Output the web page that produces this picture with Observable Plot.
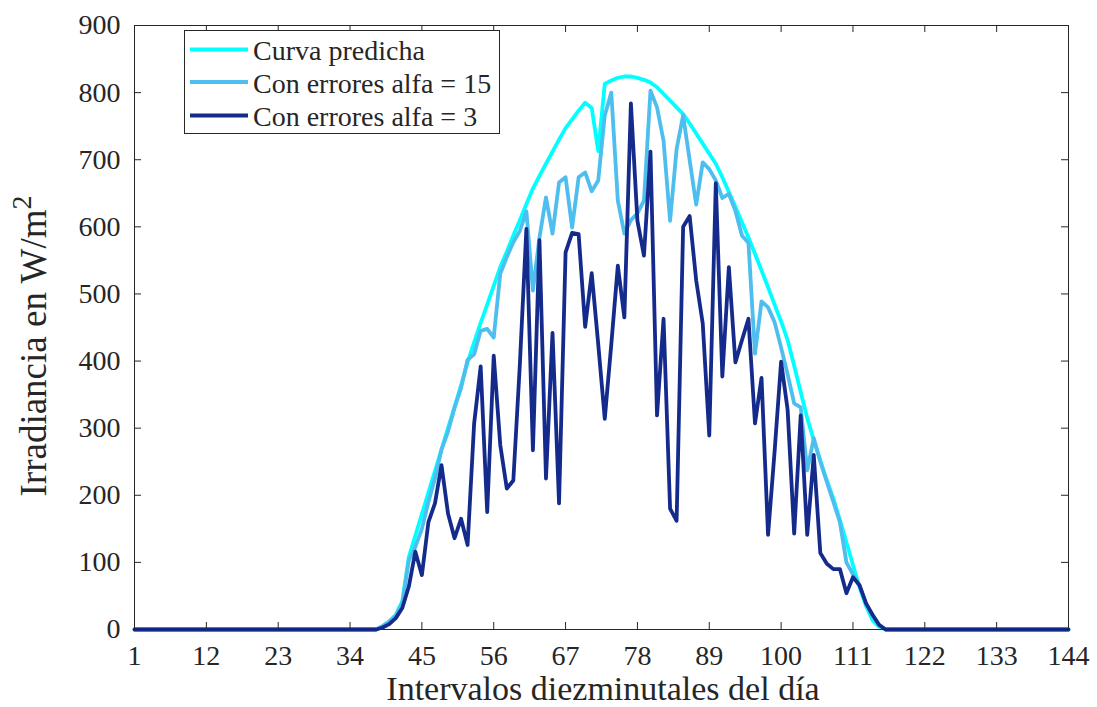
<!DOCTYPE html>
<html><head><meta charset="utf-8">
<script src="https://cdn.jsdelivr.net/npm/d3@7"></script>
<script src="https://cdn.jsdelivr.net/npm/@observablehq/plot@0.6"></script>
<style>
body{margin:0;background:#fff;}
#wrap{position:relative;width:1097px;height:707px;}
#wrap svg text{font-family:"Liberation Serif","Tinos","Times New Roman","DejaVu Serif",serif !important;}
</style></head><body><div id="wrap"></div>
<script>
// x ticks and y ticks
const xTicks = [1, 12, 23, 34, 45, 56, 67, 78, 89, 100, 111, 122, 133, 144];
const yTicks = [0, 100, 200, 300, 400, 500, 600, 700, 800, 900];
const seriesNames = ["Curva predicha", "Con errores alfa = 15", "Con errores alfa = 3"];
const seriesColors = ["#00ffff", "#4dbeee", "#152b8c"];

// intervals 1..144 ; values are zero before interval 38 and after 116
const intervals = d3.range(1, 145);
const zerosBefore = Array(37).fill(0);   // intervals 1..37
const zerosAfter = Array(28).fill(0);    // intervals 117..144

// intervals 38..116
const predicha = [0,5,12,22,42,108,140,172,204,236,268,300,332,364,398,428,457,484,512,540,563,587,610,634,657,676,694,712,730,747,760,773,785,777,713,813,818,822,824,824,822,819,815,808,798,788,778,768,754,739,724,709,694,674,652,630,607,584,560,535,510,484,459,431,393,354,315,282,252,222,195,163,130,96,63,35,14,4,0];
const alfa15 = [0,5,12,20,39,103,123,150,190,225,268,295,330,360,402,410,445,448,435,530,555,577,594,623,505,584,644,590,666,674,599,674,681,653,669,766,800,639,590,610,620,639,803,778,728,609,716,766,699,633,696,686,669,643,649,624,587,576,411,489,480,458,420,380,337,331,237,285,250,220,190,160,100,82,66,39,20,6,0];
const alfa3 = [0,3,8,17,32,64,116,81,160,188,245,173,136,165,126,307,392,175,408,275,210,222,395,597,267,580,225,442,188,562,591,589,451,531,425,314,425,542,465,784,609,557,712,319,463,180,162,600,616,520,456,289,665,377,540,398,431,463,307,375,141,265,399,327,143,319,141,260,114,98,90,90,54,78,66,39,22,7,0];

const full = [predicha, alfa15, alfa3].map(a => zerosBefore.concat(a, zerosAfter));
const rows = [];
full.forEach((vals, s) => intervals.forEach((x, i) => rows.push({x, v: vals[i], s: seriesNames[s]})));

const W = 1097, H = 707, mL = 134, mR = 29, mT = 25, mB = 78;
const pw = W - mL - mR, ph = H - mT - mB;
const ink = "#262626";
const font = "Liberation Serif, Tinos, Times New Roman, DejaVu Serif, serif";

const chart = Plot.plot({
  width: W, height: H,
  marginLeft: mL, marginRight: mR, marginTop: mT, marginBottom: mB,
  style: {fontFamily: font, background: "#fff", color: ink, overflow: "visible"},
  x: {domain: [1, 144], label: null},
  y: {domain: [0, 900], label: null},
  color: {domain: seriesNames, range: seriesColors},
  marks: [
    Plot.line(rows, {x: "x", y: "v", z: "s", stroke: "s", strokeWidth: 3.8, strokeLinejoin: "round", strokeLinecap: "round"}),
    Plot.frame({stroke: ink, strokeWidth: 1}),
    Plot.tickX(xTicks, {x: d => d, insetTop: ph - 7, stroke: ink}),
    Plot.tickX(xTicks, {x: d => d, insetBottom: ph - 7, stroke: ink}),
    Plot.tickY(yTicks, {y: d => d, insetRight: pw - 7, stroke: ink}),
    Plot.tickY(yTicks, {y: d => d, insetLeft: pw - 7, stroke: ink}),
    Plot.axisX(xTicks, {tickSize: 0, tickPadding: 16, fontSize: 28, fill: ink}),
    Plot.axisY(yTicks, {tickSize: 0, tickPadding: 14, fontSize: 28, fill: ink})
  ]
});
document.getElementById("wrap").appendChild(chart);

const svg = d3.select(chart);
// axis titles
svg.append("text")
  .attr("x", mL + pw / 2 + 2).attr("y", 700)
  .attr("text-anchor", "middle").attr("font-size", 34).attr("fill", ink)
  .text("Intervalos diezminutales del día");
const yl = svg.append("text")
  .attr("transform", "translate(46,346) rotate(-90)")
  .attr("text-anchor", "middle").attr("font-size", 37).attr("fill", ink);
yl.append("tspan").text("Irradiancia en W/m");
yl.append("tspan").attr("dy", -15).attr("font-size", 28).text("2");

// legend
const lg = svg.append("g");
lg.append("rect").attr("x", 184.5).attr("y", 30.5).attr("width", 315).attr("height", 103)
  .attr("fill", "#fff").attr("stroke", ink).attr("stroke-width", 1);
const rowY = [49.5, 82, 115.5];
seriesNames.forEach((name, i) => {
  lg.append("line").attr("x1", 190).attr("x2", 248).attr("y1", rowY[i]).attr("y2", rowY[i])
    .attr("stroke", seriesColors[i]).attr("stroke-width", 3.8);
  lg.append("text").attr("x", 253).attr("y", rowY[i] + 10.5).attr("text-anchor", "start")
    .attr("font-size", 28).attr("fill", ink).text(name);
});
</script></body></html>
